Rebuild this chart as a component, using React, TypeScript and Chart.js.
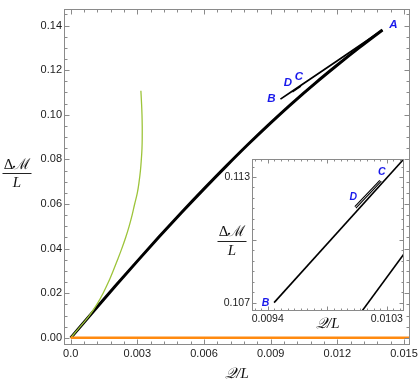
import React, { useEffect, useRef } from 'react';
import { Chart, registerables } from 'chart.js';

Chart.register(...registerables);

// ---------------- Main chart data ----------------
const mainBranchQ = [0, 0.001, 0.002, 0.003, 0.004, 0.005, 0.006, 0.007, 0.008, 0.009, 0.010, 0.011, 0.012, 0.013, 0.01403];
const mainBranchM = [0, 0.0116, 0.0231, 0.0344, 0.0455, 0.0563, 0.0668, 0.0770, 0.0869, 0.0964, 0.1055, 0.1141, 0.1223, 0.1302, 0.1380];

const upperBranchQ = [0.01403, 0.0120, 0.0104, 0.0100, 0.00944];
const upperBranchM = [0.1380, 0.1242, 0.11346, 0.1108, 0.1070];

const cdSegmentQ = [0.00998, 0.01036];
const cdSegmentM = [0.1103, 0.1129];

const greenQ = [0, 0.00043, 0.00084, 0.00118, 0.00146, 0.00170, 0.00191, 0.00211, 0.00230, 0.002475, 0.00263, 0.002765, 0.00288, 0.00300, 0.00308, 0.00314, 0.00318, 0.00321, 0.00322, 0.00322, 0.00321, 0.00319, 0.00316];
const greenM = [0, 0.005, 0.010, 0.015, 0.020, 0.025, 0.030, 0.035, 0.040, 0.045, 0.050, 0.055, 0.060, 0.065, 0.070, 0.075, 0.080, 0.085, 0.090, 0.095, 0.100, 0.105, 0.1108];

const orangeQ = [0, 0.016];
const orangeM = [0, 0];

const xTickValues = [0, 0.003, 0.006, 0.009, 0.012, 0.015];
const xTickLabels = ['0.0', '0.003', '0.006', '0.009', '0.012', '0.015'];
const yTickValues = [0, 0.02, 0.04, 0.06, 0.08, 0.10, 0.12, 0.14];
const yTickLabels = ['0.00', '0.02', '0.04', '0.06', '0.08', '0.10', '0.12', '0.14'];

const pointNames = ['A', 'B', 'C', 'D'];
const pointLabelQ = [0.014526, 0.009036, 0.010268, 0.009771];
const pointLabelM = [0.14048, 0.10716, 0.11721, 0.11428];

// ---------------- Inset data ----------------
const insetLongQ = [0.009448, 0.0106];
const insetLongM = [0.10700, 0.11506];
const insetDoubleAQ = [0.010058, 0.010247];
const insetDoubleAM = [0.11158, 0.11284];
const insetDoubleBQ = [0.010066, 0.010258];
const insetDoubleBM = [0.11151, 0.11280];
const insetMainQ = [0.0101, 0.0105];
const insetMainM = [0.10649, 0.10993];

const insetXTickValues = [0.0094, 0.00985, 0.0103];
const insetXTickLabels = ['0.0094', '', '0.0103'];
const insetYTickValues = [0.107, 0.110, 0.113];
const insetYTickLabels = ['0.107', '', '0.113'];

const insetPointNames = ['B', 'C', 'D'];
const insetLabelQ = [0.009383, 0.010261, 0.010046];
const insetLabelM = [0.10700, 0.11321, 0.11204];

// ---------------- helpers ----------------
const pts = (xs: number[], ys: number[]) => xs.map((x, i) => ({ x, y: ys[i] }));

const TICK_FONT = '"Liberation Sans", Arial, sans-serif';
const TITLE_FONT = '"Liberation Serif", "DejaVu Serif", serif';
const LABEL_BLUE = 'rgb(25,25,235)';
const FRAME = '#8a8a8a';

function drawFraction(ctx: CanvasRenderingContext2D, cx: number, barY: number, num: string, den: string, halfW: number, size: number) {
  ctx.save();
  ctx.fillStyle = '#111';
  ctx.textAlign = 'center';
  ctx.textBaseline = 'alphabetic';
  ctx.font = `${size}px ${TITLE_FONT}`;
  ctx.fillText(num, cx, barY - 4.5);
  ctx.font = `italic ${size}px ${TITLE_FONT}`;
  ctx.fillText(den, cx, barY + 14);
  ctx.strokeStyle = '#222';
  ctx.lineWidth = 1;
  ctx.beginPath();
  ctx.moveTo(cx - halfW, Math.round(barY) + 0.5);
  ctx.lineTo(cx + halfW, Math.round(barY) + 0.5);
  ctx.stroke();
  ctx.restore();
}

const decoPlugin = {
  id: 'deco',
  beforeDatasetsDraw(chart: any, _a: any, opts: any) {
    if (opts.fillArea) {
      const a = chart.chartArea;
      const ctx = chart.ctx;
      ctx.save();
      ctx.fillStyle = '#fff';
      ctx.fillRect(a.left, a.top, a.right - a.left, a.bottom - a.top);
      ctx.restore();
    }
  },
  afterDatasetsDraw(chart: any, _a: any, opts: any) {
    const { ctx, chartArea: a, scales } = chart;
    const xs = scales.x;
    const ys = scales.y;
    ctx.save();
    ctx.strokeStyle = FRAME;
    ctx.lineWidth = 1;
    const L = Math.round(a.left) + 0.5, R = Math.round(a.right) - 0.5;
    const T = Math.round(a.top) + 0.5, B = Math.round(a.bottom) - 0.5;
    ctx.strokeRect(L, T, R - L, B - T);
    const line = (x1: number, y1: number, x2: number, y2: number) => {
      ctx.beginPath(); ctx.moveTo(x1, y1); ctx.lineTo(x2, y2); ctx.stroke();
    };
    const isMajor = (v: number, majors: number[], step: number) => majors.some((m) => Math.abs(m - v) < step * 0.2);
    const xMinorStart = Math.ceil(xs.min / opts.xMinor) * opts.xMinor;
    for (let i = 0; ; i++) {
      const v = xMinorStart + i * opts.xMinor;
      if (v > xs.max) break;
      if (isMajor(v, opts.xMajor, opts.xMinor)) continue;
      const p = Math.round(xs.getPixelForValue(v)) + 0.5;
      line(p, B, p, B - opts.minorLen);
      line(p, T, p, T + opts.minorLen);
    }
    opts.xMajor.forEach((v: number) => {
      const p = Math.round(xs.getPixelForValue(v)) + 0.5;
      line(p, B, p, B - opts.majorLen);
      line(p, T, p, T + opts.majorLen);
    });
    const yMinorStart = Math.ceil(ys.min / opts.yMinor) * opts.yMinor;
    for (let i = 0; ; i++) {
      const v = yMinorStart + i * opts.yMinor;
      if (v > ys.max) break;
      if (isMajor(v, opts.yMajor, opts.yMinor)) continue;
      const p = Math.round(ys.getPixelForValue(v)) + 0.5;
      line(L, p, L + opts.minorLen, p);
      line(R, p, R - opts.minorLen, p);
    }
    opts.yMajor.forEach((v: number) => {
      const p = Math.round(ys.getPixelForValue(v)) + 0.5;
      line(L, p, L + opts.majorLen, p);
      line(R, p, R - opts.majorLen, p);
    });
    ctx.restore();

    // point labels
    ctx.save();
    ctx.fillStyle = LABEL_BLUE;
    ctx.font = `italic bold ${opts.labelSize}px ${TICK_FONT}`;
    ctx.textAlign = 'center';
    ctx.textBaseline = 'middle';
    opts.labels.forEach((lb: any) => {
      ctx.fillText(lb.text, xs.getPixelForValue(lb.x), ys.getPixelForValue(lb.y));
    });
    ctx.restore();

    // axis titles
    const cx = (a.left + a.right) / 2;
    drawFraction(ctx, opts.yTitleX, opts.yTitleBarY, 'Δℳ', 'L', 14.5, 15);
    ctx.save();
    ctx.fillStyle = '#111';
    ctx.textAlign = 'center';
    ctx.textBaseline = 'alphabetic';
    ctx.font = `italic 15px ${TITLE_FONT}`;
    ctx.fillText('𝒬/L', cx, opts.xTitleY);
    ctx.restore();
  },
};

function makeScale(min: number, max: number, values: number[], labels: string[], axis: 'x' | 'y', size: number, fontSize: number) {
  return {
    type: 'linear',
    min,
    max,
    grid: { display: false, drawTicks: false },
    border: { display: false },
    ticks: {
      autoSkip: false,
      maxRotation: 0,
      padding: 2,
      color: '#1a1a1a',
      font: { family: TICK_FONT, size: fontSize },
      callback: (_v: any, i: number) => labels[i],
    },
    afterBuildTicks: (s: any) => {
      s.ticks = values.map((v) => ({ value: v }));
    },
    afterFit: (s: any) => {
      if (axis === 'x') s.height = size;
      else s.width = size;
    },
  };
}

function MainChart() {
  const ref = useRef<HTMLCanvasElement>(null);
  useEffect(() => {
    if (!ref.current) return;
    const chart = new Chart(ref.current, {
      type: 'scatter',
      data: {
        datasets: [
          { data: pts(orangeQ, orangeM), showLine: true, borderColor: '#ff8a10', borderWidth: 2.5, pointRadius: 0 },
          { data: pts(greenQ, greenM), showLine: true, borderColor: '#9dc43a', borderWidth: 1.3, pointRadius: 0, tension: 0.4 },
          { data: pts(mainBranchQ, mainBranchM), showLine: true, borderColor: '#000', borderWidth: 3, pointRadius: 0, cubicInterpolationMode: 'monotone' },
          { data: pts(upperBranchQ, upperBranchM), showLine: true, borderColor: '#000', borderWidth: 1.7, pointRadius: 0 },
          { data: pts(cdSegmentQ, cdSegmentM), showLine: true, borderColor: '#000', borderWidth: 1.5, pointRadius: 0 },
        ],
      } as any,
      options: {
        animation: false,
        responsive: false,
        events: [],
        layout: { padding: { top: 1, right: 10, left: 0, bottom: 0 } },
        plugins: {
          legend: { display: false },
          tooltip: { enabled: false },
          deco: {
            xMajor: xTickValues, xMinor: 0.0006, yMajor: yTickValues, yMinor: 0.005,
            majorLen: 5, minorLen: 3, labelSize: 11.5,
            labels: pointNames.map((t, i) => ({ text: t, x: pointLabelQ[i], y: pointLabelM[i] })),
            yTitleX: 17, yTitleBarY: 173, xTitleY: 378,
          },
        } as any,
        scales: {
          x: makeScale(-0.0003, 0.01527, xTickValues, xTickLabels, 'x', 40, 11),
          y: makeScale(-0.0032, 0.1476, yTickValues, yTickLabels, 'y', 64, 11),
        } as any,
      },
      plugins: [decoPlugin as any],
    });
    return () => chart.destroy();
  }, []);
  return <canvas ref={ref} width={420} height={385} style={{ position: 'absolute', left: 0, top: 0, width: 420, height: 385 }} />;
}

function InsetChart() {
  const ref = useRef<HTMLCanvasElement>(null);
  useEffect(() => {
    if (!ref.current) return;
    const chart = new Chart(ref.current, {
      type: 'scatter',
      data: {
        datasets: [
          { data: pts(insetMainQ, insetMainM), showLine: true, borderColor: '#000', borderWidth: 1.6, pointRadius: 0 },
          { data: pts(insetLongQ, insetLongM), showLine: true, borderColor: '#000', borderWidth: 1.6, pointRadius: 0 },
          { data: pts(insetDoubleAQ, insetDoubleAM), showLine: true, borderColor: '#000', borderWidth: 1.1, pointRadius: 0 },
          { data: pts(insetDoubleBQ, insetDoubleBM), showLine: true, borderColor: '#000', borderWidth: 1.1, pointRadius: 0 },
        ],
      } as any,
      options: {
        animation: false,
        responsive: false,
        events: [],
        layout: { padding: { top: 9, right: 1, left: 0, bottom: 0 } },
        plugins: {
          legend: { display: false },
          tooltip: { enabled: false },
          deco: {
            fillArea: true,
            xMajor: insetXTickValues, xMinor: 0.00005, yMajor: insetYTickValues, yMinor: 0.0005,
            majorLen: 4, minorLen: 2, labelSize: 10.5,
            labels: insetPointNames.map((t, i) => ({ text: t, x: insetLabelQ[i], y: insetLabelM[i] })),
            yTitleX: 27, yTitleBarY: 90.7, xTitleY: 178,
          },
        } as any,
        scales: {
          x: makeScale(0.009281, 0.010427, insetXTickValues, insetXTickLabels, 'x', 24, 10.5),
          y: makeScale(0.1066, 0.11386, insetYTickValues, insetYTickLabels, 'y', 47, 10.5),
        } as any,
      },
      plugins: [decoPlugin as any],
    });
    return () => chart.destroy();
  }, []);
  return <canvas ref={ref} width={200} height={185} style={{ position: 'absolute', left: 205, top: 150, width: 200, height: 185 }} />;
}

export default function App() {
  return (
    <div style={{ position: 'fixed', left: 0, top: 0, width: 420, height: 385, background: '#fff', overflow: 'hidden' }}>
      <MainChart />
      <InsetChart />
    </div>
  );
}
